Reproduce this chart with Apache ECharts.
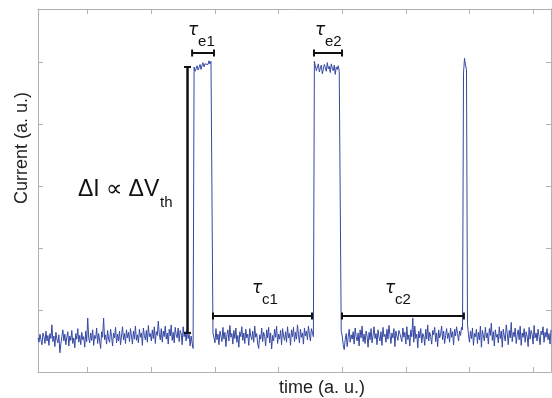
<!DOCTYPE html>
<html><head><meta charset="utf-8">
<script src="https://cdn.jsdelivr.net/npm/echarts@6/dist/echarts.min.js"></script>
<style>html,body{margin:0;padding:0;background:#fff}#c{width:552px;height:398px}</style>
</head><body><div id="c"></div>
<script>
// ---- signal samples (two samples per time unit) ----
const lowA = [0.55,0.48,0.61,0.52,0.44,0.63,0.57,0.46,0.66,0.50,
  0.59,0.43,0.62,0.54,0.76,0.49,0.58,0.41,0.64,0.53,
  0.47,0.60,0.31,0.45,0.57,0.68,0.50,0.61,0.44,0.56,
  0.65,0.42,0.58,0.51,0.67,0.46,0.55,0.39,0.62,0.53,
  0.70,0.48,0.59,0.44,0.64,0.52,0.57,0.40,0.66,0.49,
  0.87,0.55,0.47,0.63,0.51,0.68,0.43,0.59,0.54,0.71,
  0.46,0.62,0.50,0.38,0.65,0.56,0.87,0.52,0.60,0.45,
  0.67,0.53,0.48,0.69,0.57,0.42,0.63,0.55,0.72,0.47,
  0.61,0.50,0.66,0.44,0.58,0.73,0.52,0.62,0.46,0.68,
  0.55,0.64,0.49,0.70,0.58,0.45,0.66,0.53,0.74,0.51,
  0.60,0.47,0.69,0.56,0.63,0.43,0.71,0.59,0.52,0.67,
  0.48,0.75,0.57,0.62,0.50,0.68,0.54,0.73,0.46,0.65,
  0.59,0.82,0.61,0.52,0.70,0.48,0.66,0.57,0.74,0.53,
  0.63,0.45,0.69,0.58,0.76,0.51,0.64,0.47,0.72,0.60,
  0.55,0.71,0.49,0.67,0.62,0.44,0.73,0.57,0.65,0.50,
  0.69,0.54,0.61,0.42,0.58,0.47,0.38];
const highA = [4.92,4.85,4.89,4.94,4.87,4.91,4.96,4.88,4.95,4.99,4.92,4.97,4.94,5.00,4.96,5.02,4.97,5.01,4.98];
const lowB = [0.63,0.55,0.47,0.70,0.52,0.61,0.44,0.66,0.58,0.49,
  0.72,0.53,0.64,0.41,0.60,0.68,0.50,0.75,0.56,0.62,
  0.45,0.67,0.54,0.71,0.48,0.59,0.40,0.65,0.57,0.73,
  0.51,0.63,0.46,0.69,0.55,0.61,0.43,0.70,0.58,0.52,
  0.66,0.48,0.74,0.56,0.62,0.45,0.38,0.60,0.53,0.71,
  0.49,0.64,0.57,0.42,0.68,0.55,0.72,0.47,0.63,0.37,
  0.59,0.50,0.69,0.56,0.74,0.46,0.61,0.53,0.67,0.44,
  0.70,0.58,0.51,0.65,0.48,0.73,0.55,0.62,0.43,0.68,
  0.57,0.72,0.49,0.64,0.53,0.76,0.60,0.47,0.69,0.56,
  0.63,0.45,0.71,0.58,0.66,0.52,0.74,0.61,0.50,0.70,
  0.64,0.57];
const highB = [5.01,4.94,4.86,4.92,4.97,4.84,4.90,4.95,4.81,4.88,4.96,4.91,4.85,4.99,4.89,4.93,4.83,4.97,4.90,4.86,4.95,4.80,4.92,4.88,4.94,4.85,4.87];
const lowC = [0.67,0.58,0.44,0.36,0.52,0.62,0.41,0.56,0.69,0.48,
  0.60,0.53,0.65,0.45,0.71,0.57,0.50,0.63,0.42,0.68,
  0.55,0.74,0.49,0.61,0.46,0.66,0.58,0.40,0.64,0.52,
  0.70,0.47,0.59,0.73,0.54,0.62,0.44,0.68,0.56,0.50,
  0.65,0.43,0.72,0.57,0.61,0.48,0.69,0.53,0.75,0.60,
  0.46,0.63,0.55,0.70,0.41,0.66,0.58,0.51,0.67,0.62,
  0.62,0.49,0.71,0.56,0.64,0.45,0.73,0.52,0.60,0.42,
  0.68,0.57,0.87,0.48,0.74,0.54,0.61,0.39,0.66,0.55,
  0.70,0.47,0.62,0.58,0.43,0.69,0.53,0.76,0.50,0.64,
  0.57,0.45,0.67,0.60,0.72,0.49,0.63,0.41,0.68,0.55,
  0.61,0.74,0.52,0.66,0.46,0.59,0.70,0.54,0.63,0.48,
  0.71,0.56,0.65,0.44,0.69,0.58,0.73,0.62,0.50,0.66,
  0.59,0.72,0.68];
const spikeC = [4.82,5.06,4.95,4.88];
const lowD = [0.77,0.60,0.48,0.66,0.54,0.71,0.43,0.62,0.57,0.69,
  0.46,0.64,0.52,0.74,0.40,0.67,0.58,0.50,0.72,0.55,
  0.63,0.45,0.70,0.59,0.79,0.51,0.65,0.42,0.68,0.56,
  0.61,0.47,0.73,0.54,0.66,0.40,0.69,0.58,0.50,0.76,
  0.62,0.44,0.67,0.55,0.80,0.49,0.64,0.57,0.71,0.46,
  0.60,0.68,0.52,0.74,0.43,0.63,0.56,0.70,0.48,0.65,
  0.58,0.41,0.72,0.53,0.67,0.61,0.45,0.75,0.55,0.63,
  0.50,0.69,0.57,0.44,0.66,0.60,0.73,0.48,0.64,0.56,
  0.70,0.52,0.62,0.45,0.68];
const sampleStep = 0.5;

// ---- axes ----
const timeMax = 258;
const currentMax = 5.855;
const xTicks = [25,57,89,121,153,185,217,249];
const yTicks = [0,1,2,3,4,5];

// ---- annotations (data units) ----
const spanStart = [77.5,138.8,88.0,152.9];
const spanEnd   = [88.5,152.9,137.8,214.2];
const spanLevel = [5.145,5.145,0.903,0.903];
const spanSub   = ['e1','e2','c1','c2'];
const spanLabelT = [80.5,144.3,112.7,179.5];
const spanLabelY = [5.32,5.32,1.16,1.16];
const deltaT = [75.2];
const deltaLow = [0.63];
const deltaHigh = [4.92];

const current = [].concat(lowA, highA, lowB, highB, lowC, spikeC, lowD);
const signal = current.map((v,j)=>[j*sampleStep,v]);
const spans = spanStart.map((s,i)=>[s, spanEnd[i], spanLevel[i], spanLabelT[i], spanLabelY[i]]);
const deltaData = deltaT.map((t,i)=>[t, deltaLow[i], deltaHigh[i]]);

const AX = '#b0b0b0';
const INK = '#111111';
function xAx(pos){return {type:'value',min:0,max:timeMax,position:pos,
  axisLine:{show:true,onZero:false,lineStyle:{color:AX,width:1}},
  axisTick:{show:true,inside:true,length:5,customValues:xTicks,lineStyle:{color:AX}},
  axisLabel:{show:false},splitLine:{show:false}};}
function yAx(pos){return {type:'value',min:0,max:currentMax,position:pos,
  axisLine:{show:true,onZero:false,lineStyle:{color:AX,width:1}},
  axisTick:{show:true,inside:true,length:5,customValues:yTicks,lineStyle:{color:AX}},
  axisLabel:{show:false},splitLine:{show:false}};}

const chart = echarts.init(document.getElementById('c'));
chart.setOption({
  animation:false,
  grid:{left:38,right:1,top:9,bottom:26},
  xAxis:[xAx('bottom'),xAx('top')],
  yAxis:[yAx('left'),yAx('right')],
  series:[
    {type:'line',data:signal,showSymbol:false,symbol:'none',
     lineStyle:{color:'#3548a3',width:1},z:2},
    {type:'custom',data:spans,encode:{x:[0,1,3],y:[2,4]},z:5,
     renderItem:function(params,api){
       const i=params.dataIndex;
       const a=api.coord([api.value(0),api.value(2)]);
       const b=api.coord([api.value(1),api.value(2)]);
       const L=api.coord([api.value(3),api.value(4)]);
       const h=3.5, st={stroke:INK,lineWidth:2};
       return {type:'group',children:[
         {type:'line',shape:{x1:a[0],y1:a[1],x2:b[0],y2:b[1]},style:st},
         {type:'line',shape:{x1:a[0],y1:a[1]-h,x2:a[0],y2:a[1]+h},style:st},
         {type:'line',shape:{x1:b[0],y1:b[1]-h,x2:b[0],y2:b[1]+h},style:st},
         {type:'text',x:L[0]-10,y:L[1]-12,style:{text:'τ',font:'italic 17px "DejaVu Sans"',fill:INK,align:'left',verticalAlign:'middle'}},
         {type:'text',x:L[0],y:L[1],style:{text:spanSub[i],font:'15px "Liberation Sans"',fill:INK,align:'left',verticalAlign:'middle'}}
       ]};
     }},
    {type:'custom',data:deltaData,encode:{x:0,y:[1,2]},z:5,
     renderItem:function(params,api){
       const a=api.coord([api.value(0),api.value(1)]);
       const b=api.coord([api.value(0),api.value(2)]);
       const w=3.5, st={stroke:INK,lineWidth:2.5};
       return {type:'group',children:[
         {type:'line',shape:{x1:a[0],y1:a[1],x2:b[0],y2:b[1]},style:st},
         {type:'line',shape:{x1:a[0]-w,y1:a[1],x2:a[0]+w,y2:a[1]},style:{stroke:INK,lineWidth:2}},
         {type:'line',shape:{x1:b[0]-w,y1:b[1],x2:b[0]+w,y2:b[1]},style:{stroke:INK,lineWidth:2}}
       ]};
     }}
  ],
  graphic:[
    {type:'text',x:78,y:190,style:{text:'ΔI ∝ ΔV',font:'23px "Liberation Sans"',fill:INK,align:'left',verticalAlign:'middle'}},
    {type:'text',x:160,y:203,style:{text:'th',font:'15px "Liberation Sans"',fill:INK,align:'left',verticalAlign:'middle'}},
    {type:'text',x:22,y:148,rotation:Math.PI/2,style:{text:'Current (a. u.)',font:'18px "Liberation Sans"',fill:'#222',align:'center',verticalAlign:'middle'}},
    {type:'text',x:322,y:388,style:{text:'time (a. u.)',font:'18px "Liberation Sans"',fill:'#222',align:'center',verticalAlign:'middle'}}
  ]
});
</script></body></html>
